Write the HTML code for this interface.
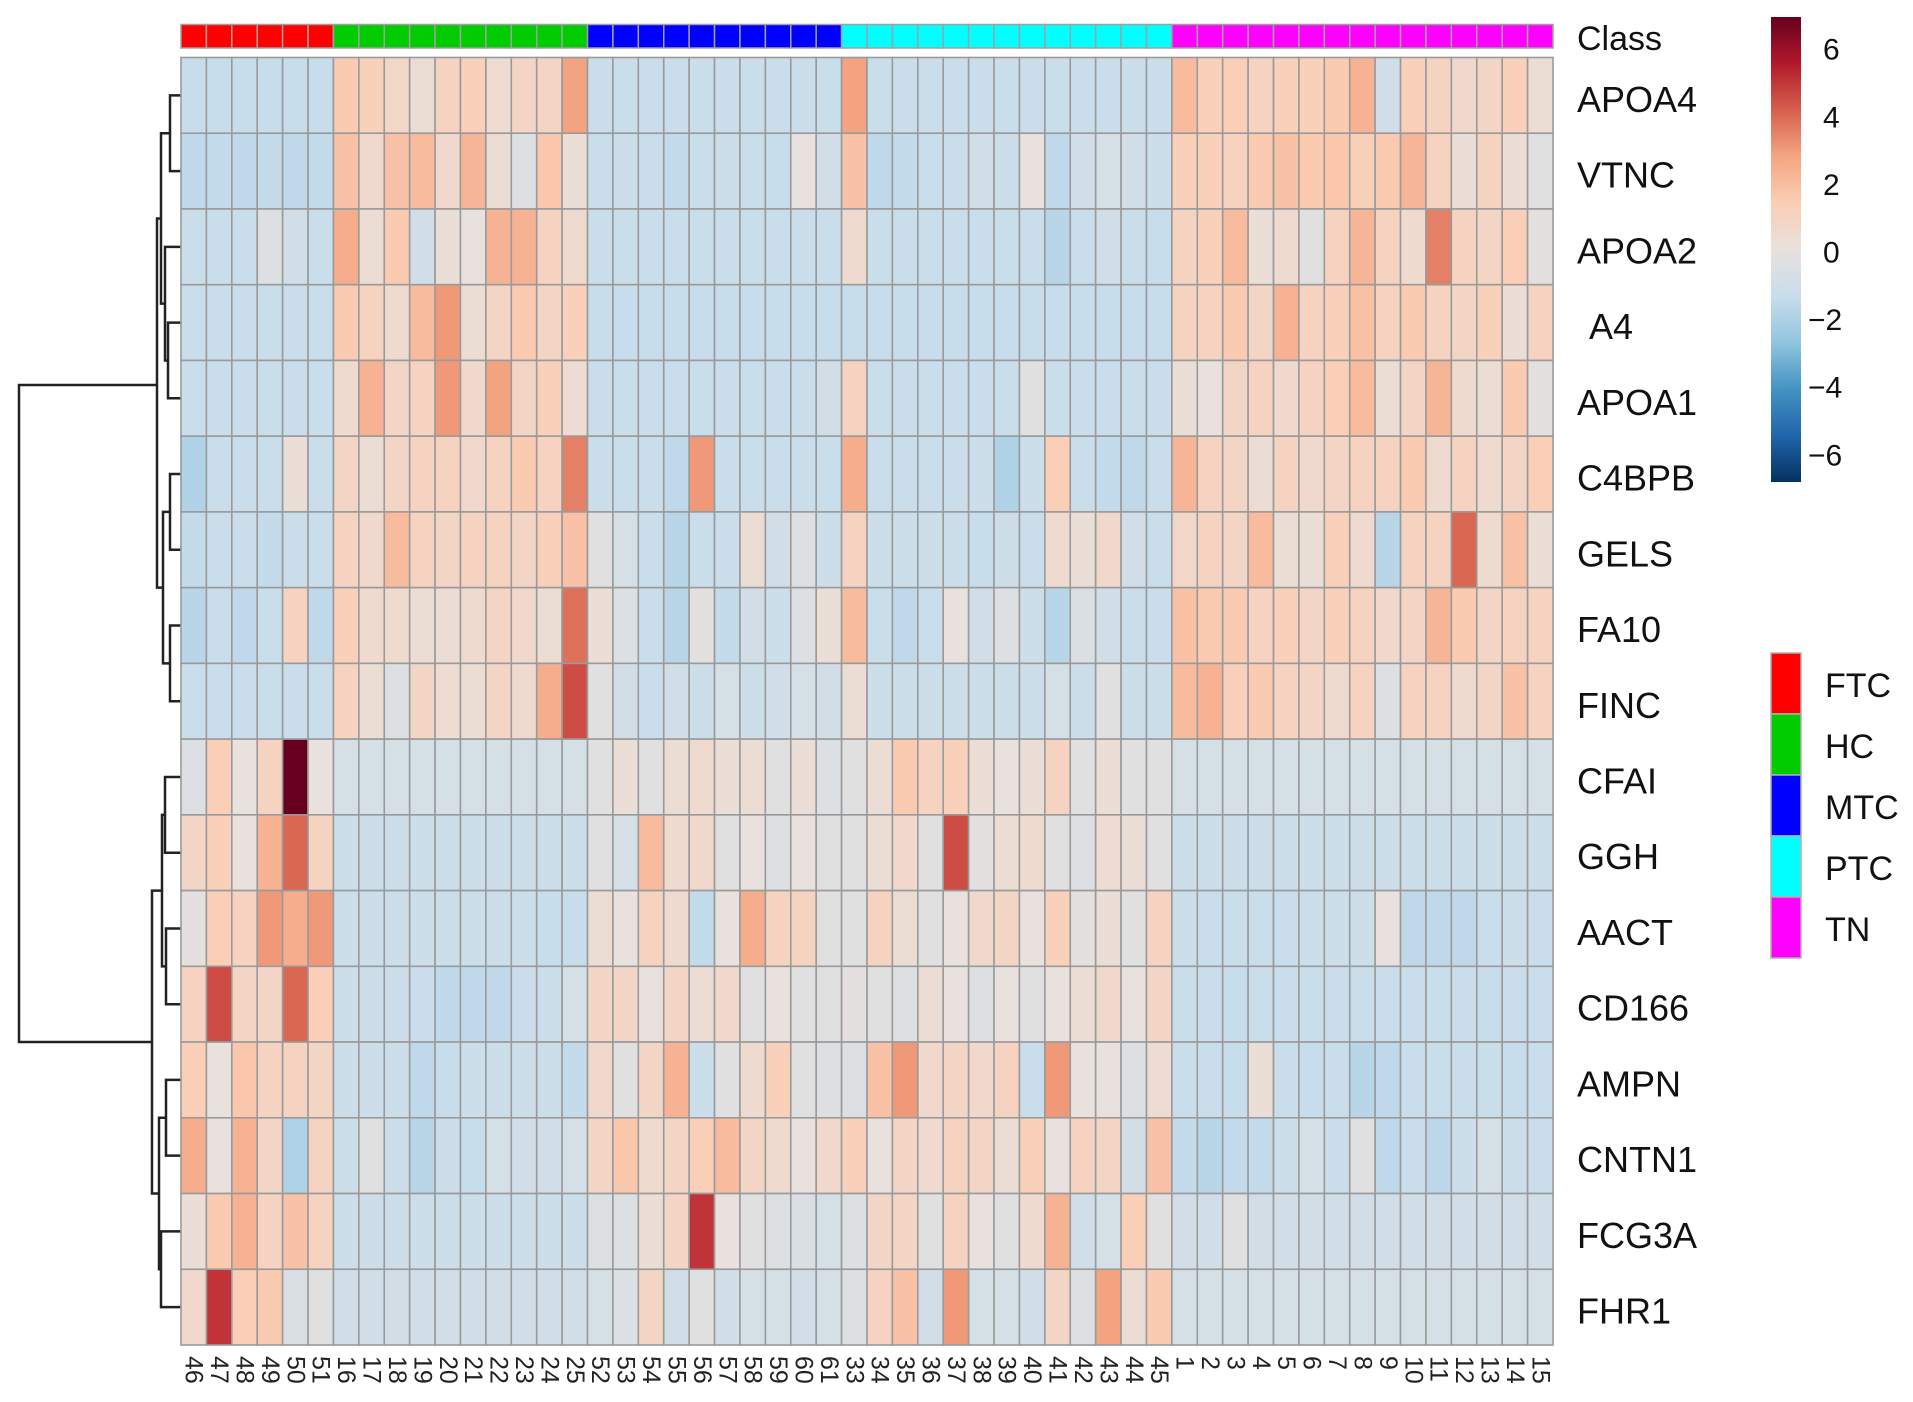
<!DOCTYPE html>
<html><head><meta charset="utf-8"><style>
html,body{margin:0;padding:0;background:#fff;}
svg{display:block;font-family:"Liberation Sans",sans-serif;}
</style></head><body>
<svg id="chart" width="1913" height="1402" viewBox="0 0 1913 1402">
<g id="dendro" stroke="#222" stroke-width="2.5" fill="none"></g>
<g id="classbar"></g>
<g id="cells"></g>
<g id="rowlabels"></g>
<g id="collabels"></g>
<g id="colorbar"></g>
<g id="legend"></g>
</svg>
<script>
const genes = ["APOA4","VTNC","APOA2","A4","APOA1","C4BPB","GELS","FA10","FINC","CFAI","GGH","AACT","CD166","AMPN","CNTN1","FCG3A","FHR1"];
const samples = ["46","47","48","49","50","51","16","17","18","19","20","21","22","23","24","25","52","53","54","55","56","57","58","59","60","61","33","34","35","36","37","38","39","40","41","42","43","44","45","1","2","3","4","5","6","7","8","9","10","11","12","13","14","15"];
const sampleClass = ["FTC","FTC","FTC","FTC","FTC","FTC","HC","HC","HC","HC","HC","HC","HC","HC","HC","HC","MTC","MTC","MTC","MTC","MTC","MTC","MTC","MTC","MTC","MTC","PTC","PTC","PTC","PTC","PTC","PTC","PTC","PTC","PTC","PTC","PTC","PTC","PTC","TN","TN","TN","TN","TN","TN","TN","TN","TN","TN","TN","TN","TN","TN","TN"];
const classNames = ["FTC","HC","MTC","PTC","TN"];
const classColors = ["#ff0000","#00cc00","#0000ff","#00ffff","#ff00ff"];
const scaleTicks = [6,4,2,0,-2,-4,-6];
const vAPOA4 = [-1.4,-1.4,-1.4,-1.4,-1.4,-1.4, 1.5,1.2,0.7,0.3,1,1.2,0.4,0.8,0.8,2.8, -1.3,-1.3,-1.3,-1.3,-1.3,-1.3,-1.3,-1.3,-1.3,-1.3, 2.8,-1.3,-1.3,-1.3,-1.3,-1.3,-1.3,-1.3,-1.3,-1.3,-1.3,-1.3,-1.3, 2,1.2,1.3,1,1.2,1.2,1.5,2.3,-1,1.2,1,0.6,0.8,1.2,0.3];
const vVTNC = [-1.6,-1.5,-1.6,-1.5,-1.6,-1.5, 1.8,0.6,1.8,2,0.6,2.2,0.3,-0.5,1.6,0.2, -1.3,-1.2,-1.3,-1.5,-1.3,-1.2,-1.3,-1.4,0,-1, 1.8,-1.6,-1.5,-1.3,-1.3,-1,-1.2,0,-1.6,-1,-0.8,-1,-1.2, 1.2,1.2,1,1.5,1.8,1.5,1.6,1.2,1.5,2.2,1,0.2,1,0.2,-0.3];
const vAPOA2 = [-1.3,-1.3,-1.3,-0.5,-1,-1.3, 2.5,0.3,1.5,-1,0.2,0,2.3,2.3,1,0.5, -1.3,-1.3,-1.3,-1.3,-1.3,-1.3,-1.3,-1.3,-1.3,-1.3, 0.5,-1.3,-1.3,-1.3,-1.3,-1.3,-1.3,-1.3,-1.8,-1.3,-1,-1.3,-1.4, 1,1.2,2,0.2,0.5,-0.3,1,2.2,1,0.5,3.5,1,0.8,1.3,-0.2];
const vA4 = [-1.3,-1.3,-1.3,-1.3,-1.3,-1.3, 1.5,1,0.5,2,3,0.3,0.8,1.5,0.8,1.2, -1.4,-1.4,-1.4,-1.4,-1.4,-1.4,-1.4,-1.4,-1.4,-1.4, -1.4,-1.4,-1.4,-1.4,-1.4,-1.4,-1.4,-1.4,-1.4,-1.4,-1.4,-1.4,-1.4, 1,1,1.5,0.8,2.3,1,1.2,1.8,1,1.5,1,0.8,1.2,0.2,1];
const vAPOA1 = [-1.3,-1.3,-1.3,-1.3,-1.3,-1.3, 0.5,2.3,0.8,1,3,0.6,2.8,0.8,1.2,0.4, -1.3,-1.3,-1.3,-1.3,-1.3,-1.3,-1.3,-1.3,-1.3,-1, 1,-1.3,-1.3,-1.3,-1.3,-1.3,-1.3,-0.3,-1.3,-1.3,-1.3,-1.3,-1.3, 0.2,0,0.8,1,0.6,1,1.3,2,0.3,0.8,2.2,0.5,0.3,1.5,-0.2];
const vC4BPB = [-2,-1.3,-1.3,-1.3,0.2,-1.3, 0.8,0.3,0.8,1,1,0.6,1,1.5,1,3.5, -1.3,-1.3,-1.3,-1.6,3,-1.3,-1.3,-1.3,-1.3,-1.3, 2.5,-1.3,-1.3,-1.3,-1.3,-1.2,-2,-1.2,1.3,-1.3,-1.5,-1.6,-1.3, 2.2,1,0.8,0.3,1,0.6,0.8,1,1,1.5,0.5,1,0.5,0.8,1.3];
const vGELS = [-1.5,-1.3,-1.3,-1.5,-1.3,-1.3, 1,0.6,2,1,0.8,1,1,0.8,1.2,1.8, -0.3,-0.8,-1.3,-1.8,-1.3,-1.3,0.3,-1,-0.5,-1.2, 1,-1.2,-1.2,-1.2,-1.2,-1.4,-1.1,-1.3,0.5,0.2,0.6,-1,-1.3, 0.7,1,0.8,2,0.3,0.2,1.2,0.5,-1.8,1,1,4,0.5,1.8,0.2];
const vFA10 = [-1.8,-1.3,-1.6,-1.3,1,-1.6, 1.2,0.5,0.5,0.3,0.3,0.5,0.8,0.6,0.3,3.8, 0.2,-0.5,-1.3,-1.8,-0.2,-1.5,-1,-1.2,-0.5,0.2, 2,-1.3,-1.6,-1.3,0,-1,-0.5,-1.2,-1.8,-0.6,-1,-1.3,-1.3, 1.8,1.5,1.5,1,1.2,0.8,1.2,1,0.6,0.8,2.2,1.5,0.8,1,1];
const vFINC = [-1.3,-1.3,-1.3,-1.3,-1.3,-1.3, 1,0.3,-0.5,0.8,0.4,0.3,0.8,0.5,2.5,4.5, -0.3,-1,-1.3,-1,-1.2,-0.8,-1.2,-1,-0.8,-1, 0.3,-1.2,-1.2,-1.2,-1.2,-1.2,-1.2,-1.2,-0.8,-1.2,-0.3,-1.2,-1.2, 2,2.3,1.2,1.5,1,0.8,0.5,1,-0.5,1,1,0.5,0.8,1.8,1];
const vCFAI = [-0.5,1.3,0,1,7,0, -0.8,-0.8,-0.8,-0.8,-0.8,-0.8,-0.8,-0.8,-0.8,-0.8, -0.3,0.2,-0.3,0.3,0.5,0.2,0.3,-0.3,0.2,-0.5, -0.3,0.3,1.5,1,1.2,0.2,0,0.2,1,-0.3,0.2,-0.3,-0.3, -0.8,-0.8,-0.8,-0.8,-0.8,-0.8,-0.8,-0.8,-0.8,-0.8,-0.8,-0.8,-0.8,-0.8,-0.8];
const vGGH = [0.8,1.2,0,2.3,4,1, -1.2,-1.2,-1.2,-1.2,-1.2,-1.2,-1.2,-1.2,-1.2,-1.2, -0.3,-0.8,2,0.5,0.6,-0.3,0,-0.5,0,-0.3, -0.3,0.3,0.6,-0.3,4.5,-0.2,0.3,0.5,-0.3,-0.5,0.4,0.2,-0.3, -1.2,-1.2,-1.2,-1.2,-1.2,-1.2,-1.2,-1.2,-1.2,-1.2,-1.2,-1.2,-1.2,-1.2,-1.2];
const vAACT = [-0.2,1.3,1,3,2.5,3, -1.2,-1.2,-1.2,-1.2,-1.2,-1.2,-1.2,-1.2,-1.4,-1.4, 0.3,0,1,0.5,-1.5,0,2.5,1,1,-0.3, -0.3,1,0.3,-0.3,0,0.6,0.8,0,1.2,-0.2,0.2,-0.3,1, -1.2,-1.3,-1.3,-1.3,-1.3,-1.2,-1.2,-1.2,0,-1.6,-1.6,-1.6,-1.3,-1.2,-1.3];
const vCD166 = [1,4.5,0.8,0.8,4,1.3, -1.2,-1.2,-1.2,-1.3,-1.6,-1.6,-1.6,-1.3,-1.2,-0.8, 0.8,0.8,0,0.8,0.3,0.6,-0.3,0,-0.3,-0.3, -0.2,-0.3,-0.5,0.3,0,-0.5,0,-0.3,0,0.3,0.6,0,0.8, -1.3,-1.3,-1.4,-1.3,-1.3,-1.3,-1.3,-1.3,-1.3,-1.3,-1.3,-1.3,-1.4,-1.3,-1.3];
const vAMPN = [1.3,0,1.6,1,1,0.8, -1.2,-1.2,-1.2,-1.6,-1.4,-1.2,-1.2,-1.2,-1.2,-1.5, 0.6,-0.3,0.8,2.3,-1.2,-0.3,0.5,1.2,-0.3,-0.5, -0.5,1.8,3,0.6,0.8,0.6,1,-1.3,3,0,0,-0.5,0.4, -1.3,-1.3,-1.4,0.2,-1.3,-1.4,-1.3,-1.8,-1.6,-1.3,-1.3,-1.3,-1.3,-1.4,-1.3];
const vCNTN1 = [2.5,0,2.3,0.8,-2,1, -1.2,-0.3,-1.2,-1.8,-1.2,-1.4,-0.8,-1,-1,-0.8, 0.8,1.6,0.5,0.8,1.3,2,0.8,0.5,0,0.6, 1.2,0,0.8,0.5,1,0.8,0.3,1.2,0,1,0.8,-1,1.8, -1.5,-1.8,-1.5,-1.5,-1.2,-0.8,-1.3,-0.3,-1.6,-1.3,-1.7,-1.2,-0.8,-1.2,-1.3];
const vFCG3A = [0.2,1.5,2.3,1,1.8,1, -1.2,-1.2,-1.2,-1.2,-1.2,-1.2,-1.2,-1.2,-1.2,-1.2, -0.5,-0.5,0.2,0.8,5,0,-0.3,-0.5,-0.6,-0.8, -0.5,0.8,0.8,-0.3,1,0,-0.3,0.5,2.3,-1,-0.8,1.3,-0.3, -1,-1,-0.3,-1,-1,-1,-1,-1,-1,-1,-1,-1,-1,-1,-1];
const vFHR1 = [0.6,5,1.3,1.5,-0.6,-0.3, -1,-1,-1,-1,-1,-1,-1,-1,-1,-1, -0.8,-0.5,0.8,-1,-0.3,-1,-0.8,-0.8,-1,-0.8, -0.5,1,1.8,-1,3,-0.8,-0.8,-1,0.8,-0.5,2.8,0.3,1.5, -0.8,-0.8,-0.8,-0.8,-0.8,-0.8,-0.8,-0.8,-0.8,-0.8,-0.8,-0.8,-0.8,-0.8,-0.8];
const values = [vAPOA4,vVTNC,vAPOA2,vA4,vAPOA1,vC4BPB,vGELS,vFA10,vFINC,vCFAI,vGGH,vAACT,vCD166,vAMPN,vCNTN1,vFCG3A,vFHR1];

const NS="http://www.w3.org/2000/svg";
function mk(tag, attrs, parent){const e=document.createElementNS(NS,tag);for(const k in attrs)e.setAttribute(k,attrs[k]);parent.appendChild(e);return e;}
const X0=181, X1=1553, Y0=57.5, Y1=1345;
const cw=(X1-X0)/samples.length, rh=(Y1-Y0)/genes.length;
const xPos=i=>X0+i*cw, yPos=j=>Y0+j*rh;
const vmin=-6.9, vmax=6.9;
const pal=["#053061","#2166ac","#4393c3","#92c5de","#c8ddec","#e8e1dd","#fbcdb5","#f4a582","#d6604d","#b2182b","#67001f"];
function hex(h){return [1,3,5].map(i=>parseInt(h.substr(i,2),16));}
function colorFor(v){
  const m=Math.max(vmin,Math.min(vmax,v));
  const t=m<=0?(m-vmin)/(0-vmin)*5:5+m/vmax*5;
  const i=Math.min(9,Math.floor(t)), f=t-i;
  const a=hex(pal[i]),b=hex(pal[i+1]);
  return "rgb("+a.map((c,k)=>Math.round(c+(b[k]-c)*f)).join(",")+")";
}
const cb=document.getElementById('classbar');
sampleClass.forEach((c,i)=>{
  const r=mk('rect',{x:xPos(i),y:24.5,width:cw,height:23.5,fill:classColors[classNames.indexOf(c)],stroke:'#a0a0a0','stroke-width':1.5},cb);
  
  
});
const ct=mk('text',{x:1577,y:39,'font-size':34,'dominant-baseline':'central',fill:'#111'},cb);ct.textContent='Class';


const cg=document.getElementById('cells');
values.forEach((row,j)=>row.forEach((v,i)=>{
  const r=mk('rect',{x:xPos(i),y:yPos(j),width:cw,height:rh,fill:colorFor(v),stroke:'#9a9a9a','stroke-width':1.6},cg);
  
  
}));
const rl=document.getElementById('rowlabels');
genes.forEach((g,j)=>{
  const t=mk('text',{x:g==="A4"?1589:1577,y:yPos(j)+rh/2+4,'font-size':36,'dominant-baseline':'central',fill:'#111'},rl);t.textContent=g;
  
  
});
const cl=document.getElementById('collabels');
samples.forEach((s,i)=>{
  const cx=xPos(i)+cw/2, y=1356;
  const t=mk('text',{x:cx,y:y,'font-size':25,'dominant-baseline':'central',transform:'rotate(90 '+cx+' '+y+')',fill:'#222'},cl);t.textContent=s;
  
  
});
const dg=document.getElementById('dendro');
const rc=j=>yPos(j)+rh/2;
function br(x,ya,yb,xa,xb){mk('path',{d:`M${xa},${ya}H${x}V${yb}H${xb}`},dg);}
br(170,rc(0),rc(1),181,181);
br(168,rc(3),rc(4),181,181);
br(165,rc(2),(rc(3)+rc(4))/2,181,168);
br(161,(rc(0)+rc(1))/2,(rc(2)+(rc(3)+rc(4))/2)/2,170,165);
br(170,rc(5),rc(6),181,181);
br(170,rc(7),rc(8),181,181);
br(163,(rc(5)+rc(6))/2,(rc(7)+rc(8))/2,170,170);
const aTop=((rc(0)+rc(1))/2+(rc(2)+(rc(3)+rc(4))/2)/2)/2, aBot=((rc(5)+rc(6))/2+(rc(7)+rc(8))/2)/2;
br(157,aTop,aBot,161,163);
br(165,rc(9),rc(10),181,181);
br(166,rc(11),rc(12),181,181);
br(162,(rc(9)+rc(10))/2,(rc(11)+rc(12))/2,165,166);
br(166,rc(13),rc(14),181,181);
br(161,rc(15),rc(16),181,181);
br(159,(rc(13)+rc(14))/2,(rc(15)+rc(16))/2,166,161);
const bTop=((rc(9)+rc(10))/2+(rc(11)+rc(12))/2)/2, bBot=((rc(13)+rc(14))/2+(rc(15)+rc(16))/2)/2;
br(152,bTop,bBot,162,159);
br(19,(aTop+aBot)/2-18,(bTop+bBot)/2,157,152);
const cbar=document.getElementById('colorbar');
const defs=mk('defs',{},cbar);
const lg=mk('linearGradient',{id:'grad',x1:0,y1:1,x2:0,y2:0},defs);
pal.forEach((c,k)=>mk('stop',{offset:(k/10),'stop-color':c},lg));
const br2=mk('rect',{x:1771,y:17,width:30,height:465,fill:'url(#grad)'},cbar);


const ypx=v=>253-v*33.8;
scaleTicks.forEach(v=>{
  const t=mk('text',{x:v<0?1808:1823,y:ypx(v),'font-size':30,'dominant-baseline':'central',fill:'#111'},cbar);
  t.textContent=v<0?'\u2212'+(-v):String(v);
  
  
});
const lgd=document.getElementById('legend');
classNames.forEach((c,k)=>{
  const y=653+k*61;
  const r=mk('rect',{x:1771,y:y,width:30,height:61,fill:classColors[k],stroke:'#b0b0b0','stroke-width':1.5},lgd);
  
  
  const t=mk('text',{x:1825,y:y+33,'font-size':34,'dominant-baseline':'central',fill:'#111'},lgd);t.textContent=c;
  
  
});
</script>
</body></html>
